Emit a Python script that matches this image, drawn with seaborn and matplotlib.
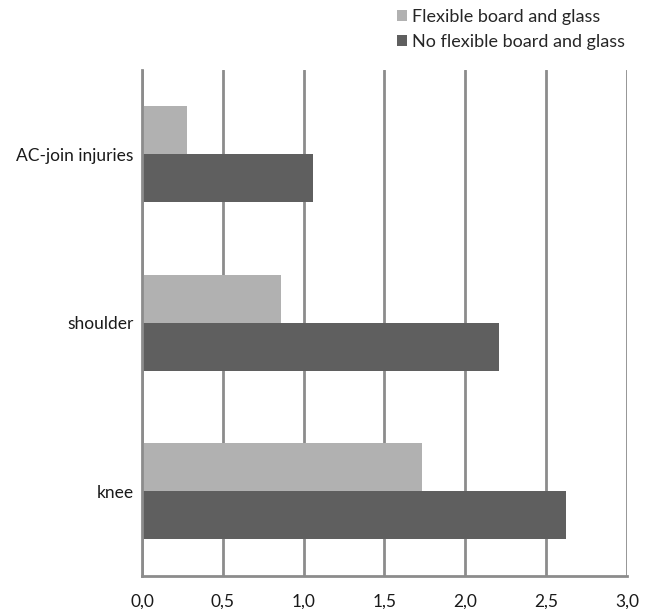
"""Injury rates with and without flexible board and glass."""
import matplotlib
matplotlib.use("Agg")
import matplotlib.pyplot as plt
import pandas as pd
import seaborn as sns

INJURIES = ["AC-join injuries", "shoulder", "knee"]
GROUPS = ["Flexible board and glass", "No flexible board and glass"]
FLEXIBLE = [0.28, 0.86, 1.73]
NO_FLEXIBLE = [1.06, 2.21, 2.62]
X_TICKS = [0.0, 0.5, 1.0, 1.5, 2.0, 2.5, 3.0]
X_LABELS = ["0,0", "0,5", "1,0", "1,5", "2,0", "2,5", "3,0"]

COLORS = ["#b1b1b1", "#5f5f5f"]
GRID = "#8c8c8c"


def main() -> None:
    data = pd.DataFrame({
        "injury": INJURIES * 2,
        "group": [GROUPS[0]] * 3 + [GROUPS[1]] * 3,
        "rate": FLEXIBLE + NO_FLEXIBLE,
    })

    sns.set_theme(style="white")
    plt.rcParams["font.family"] = ["Lato", "DejaVu Sans"]

    fig = plt.figure(figsize=(6.5, 6.09), dpi=100)
    ax = fig.add_axes([0.2185, 0.055, 0.746, 0.83])
    sns.barplot(data=data, y="injury", x="rate", hue="group", order=INJURIES,
                hue_order=GROUPS, palette=COLORS, orient="h", width=0.57,
                saturation=1, linewidth=0, ax=ax, legend=True)

    ax.set_xlim(0, 3.0)
    ax.set_xticks(X_TICKS)
    ax.set_xticklabels(X_LABELS)
    ax.xaxis.grid(True, color=GRID, linewidth=2)
    ax.set_axisbelow(True)
    ax.set(xlabel="", ylabel="")
    ax.tick_params(axis="both", length=0, labelsize=12.5, colors="#1a1a1a")
    ax.tick_params(axis="x", pad=13)
    ax.tick_params(axis="y", pad=6)
    for side in ("top", "right"):
        ax.spines[side].set_visible(False)
    for side in ("left", "bottom"):
        ax.spines[side].set_color(GRID)
        ax.spines[side].set_linewidth(2)

    handles, labels = ax.get_legend_handles_labels()
    ax.legend_.remove()
    fig.legend(handles, labels, loc="upper left", bbox_to_anchor=(0.585, 1.012),
               frameon=False, fontsize=13, handlelength=0.6, handleheight=0.6,
               handletextpad=0.25, labelspacing=0.5)

    fig.savefig("out.png", dpi=100)
    plt.close(fig)


if __name__ == "__main__":
    main()
